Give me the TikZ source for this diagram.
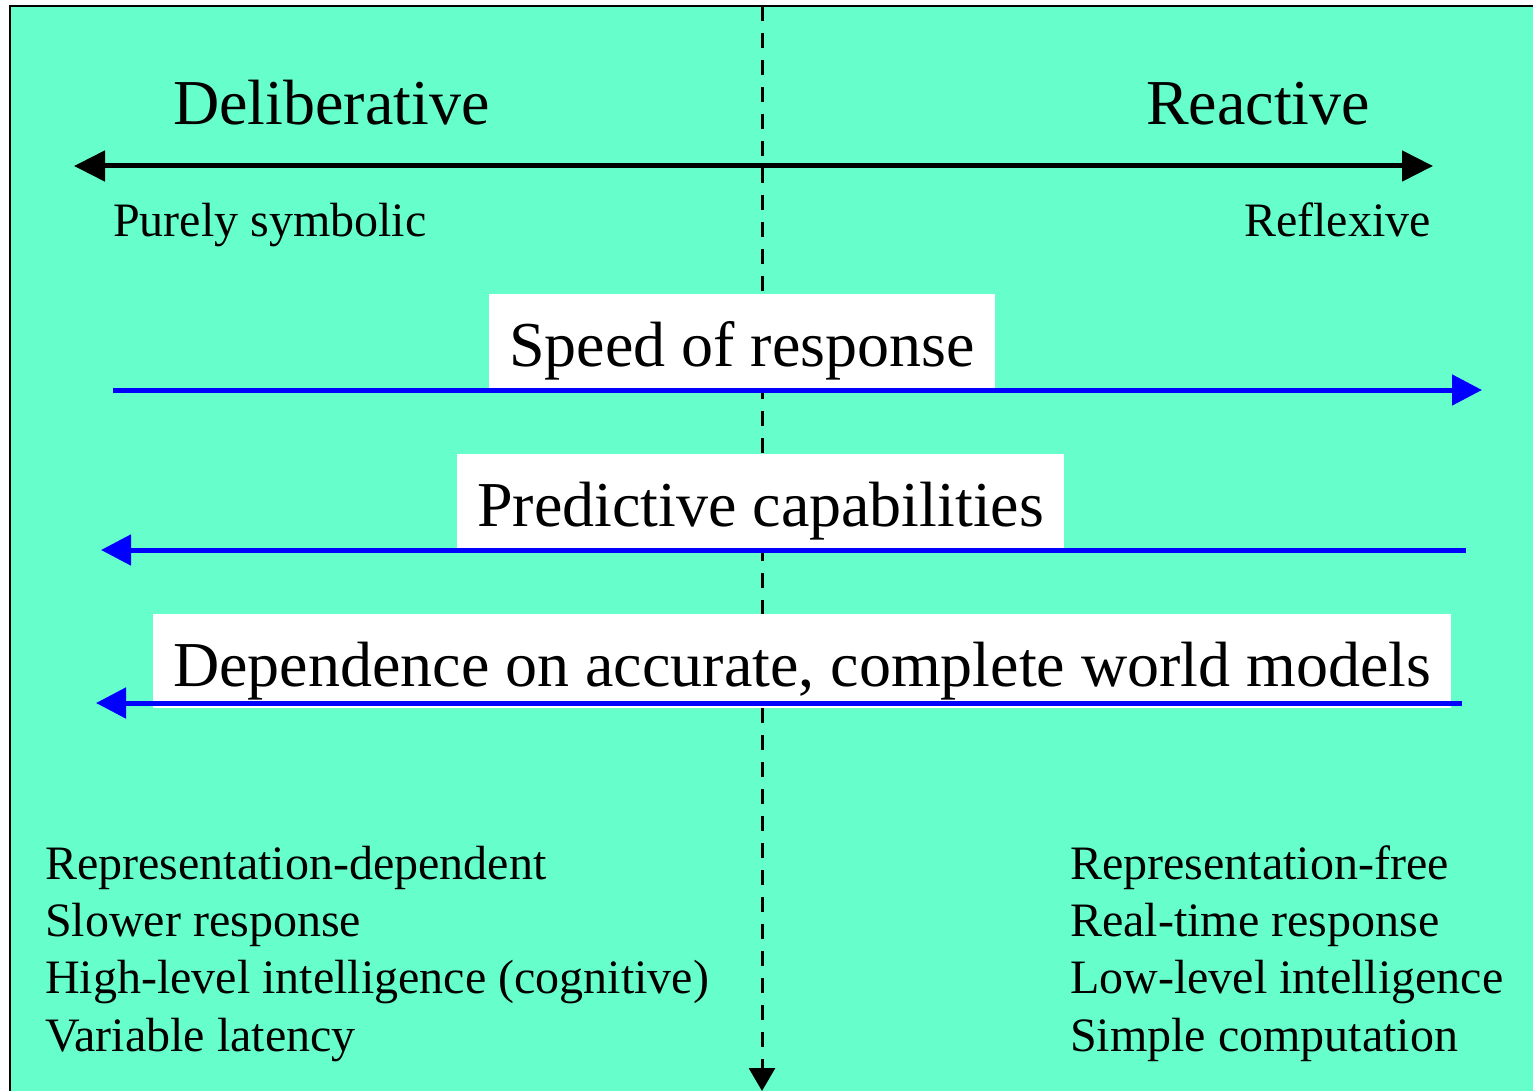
\documentclass[tikz,border=0pt]{standalone}
\usepackage{fontspec}
\setmainfont{Liberation Serif}
\usetikzlibrary{arrows.meta}
\definecolor{bgaqua}{RGB}{102,255,204}
\definecolor{arrblue}{RGB}{0,0,255}
\tikzset{
  bigtxt/.style={anchor=base west, inner sep=0pt, font=\fontsize{64}{70}\selectfont},
  smalltxt/.style={anchor=base west, inner sep=0pt, font=\fontsize{48}{56}\selectfont},
  whitebox/.style={anchor=base west, fill=white, inner xsep=20pt, inner ysep=0pt,
    text height=72pt, text depth=22pt, font=\fontsize{64}{70}\selectfont},
  blackarrow/.style={line width=5pt, {Triangle[length=31pt,width=30pt]}-{Triangle[length=31pt,width=30pt]}},
  bluearrow/.style={line width=5pt, draw=arrblue, -{Triangle[length=30pt,width=30pt]}, arrblue},
  divider/.style={line width=3pt, dash pattern=on 15pt off 12pt, -{Triangle[length=23pt,width=26pt]}}
}
\begin{document}
\begin{tikzpicture}[x=1pt,y=-1pt]
\useasboundingbox (0,0) rectangle (1533,1091);
\clip (0,0) rectangle (1533,1091);
% background panel
\fill[bgaqua] (10,6) rectangle (1545,1100);
\draw[line width=2pt] (1545,6) -- (10,6) -- (10,1100);
% divider
\coordinate (dtop) at (762,6);
\coordinate (dbot) at (762,1091);
\draw[divider] (dtop) -- (dbot);
% top axis
\coordinate (axL) at (74,166);
\coordinate (axR) at (1433,166);
\draw[blackarrow] (axL) -- (axR);
\node[bigtxt] (delib) at (173,125) {Deliberative};
\node[bigtxt] (react) at (1146,125) {Reactive};
\node[smalltxt] (symb) at (113,237) {Purely symbolic};
\node[smalltxt] (refl) at (1244,237) {Reflexive};
% boxes
\node[whitebox] (speed) at (489,366) {Speed of response};
\node[whitebox] (pred) at (457,526) {Predictive capabilities};
\node[whitebox] (dep) at (153,686) {Dependence on accurate, complete world models};
% blue arrows
\coordinate (s1) at (113,390);
\coordinate (s2) at (1482,390);
\coordinate (p1) at (1466,550);
\coordinate (p2) at (101,550);
\coordinate (q1) at (1462,703);
\coordinate (q2) at (96,703);
\draw[bluearrow] (s1) -- (s2);
\draw[bluearrow] (p1) -- (p2);
\draw[bluearrow] (q1) -- (q2);
% lists
\node[smalltxt] (l1) at (45,879) {Representation-dependent};
\node[smalltxt] (l2) at (45,936) {Slower response};
\node[smalltxt] (l3) at (45,993) {High-level intelligence (cognitive)};
\node[smalltxt] (l4) at (45,1051) {Variable latency};
\node[smalltxt] (r1) at (1070,879) {Representation-free};
\node[smalltxt] (r2) at (1070,936) {Real-time response};
\node[smalltxt] (r3) at (1070,993) {Low-level intelligence};
\node[smalltxt] (r4) at (1070,1051) {Simple computation};
\end{tikzpicture}
\end{document}
